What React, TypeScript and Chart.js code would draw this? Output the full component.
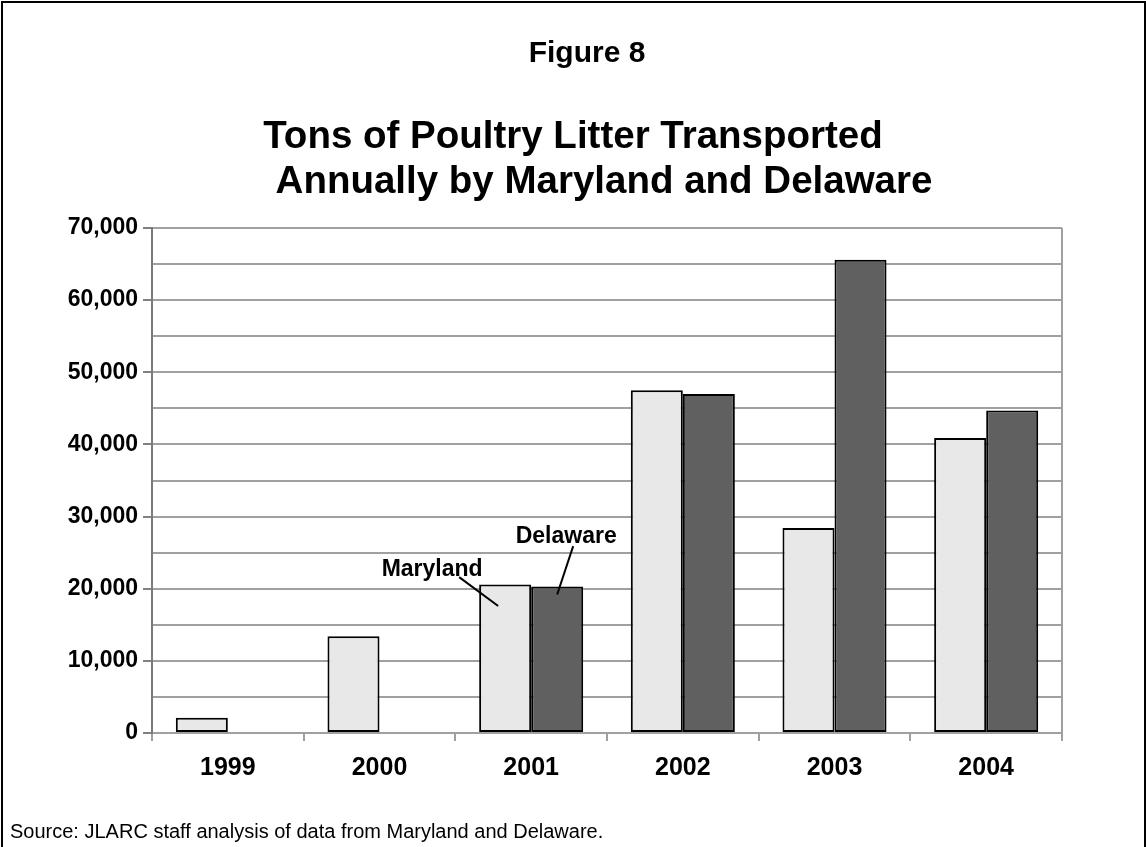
import React, { useEffect, useRef } from "react";
import { Chart, registerables } from "chart.js";

Chart.register(...registerables);

// ---- data ----
const categories = ["1999", "2000", "2001", "2002", "2003", "2004"];
const seriesNames = ["Maryland", "Delaware"];
const marylandTons = [2100, 13400, 20600, 47500, 28400, 40900];
const delawareTons: (number | null)[] = [null, null, 20300, 47000, 65600, 44700];
const yMin = 0;
const yMax = 70000;
const yStep = 5000;
const yLabelEvery = 10000;

const FONT = '"Liberation Sans", Arial, Helvetica, sans-serif';

// callout labels (text positioned relative to the 2001 bars)
const callouts = [
  { series: 0, category: 2, text: "Maryland", textDx: -73, textValue: 21700, fromDx: -46, fromValue: 21600, toDx: -7, toValue: 17600 },
  { series: 1, category: 2, text: "Delaware", textDx: 9, textValue: 26300, fromDx: 16, fromValue: 25900, toDx: 0, toValue: 19200 },
];

const calloutPlugin = {
  id: "callouts",
  afterDatasetsDraw(chart: any) {
    const ctx = chart.ctx;
    const y = chart.scales.y;
    ctx.save();
    callouts.forEach((c) => {
      const bar = chart.getDatasetMeta(c.series).data[c.category];
      if (!bar) return;
      const bx = bar.x;
      ctx.strokeStyle = "#000";
      ctx.lineWidth = 2;
      ctx.beginPath();
      ctx.moveTo(bx + c.fromDx, y.getPixelForValue(c.fromValue));
      ctx.lineTo(bx + c.toDx, y.getPixelForValue(c.toValue));
      ctx.stroke();
      ctx.fillStyle = "#000";
      ctx.font = `bold 23px ${FONT}`;
      ctx.textAlign = "center";
      ctx.textBaseline = "alphabetic";
      ctx.fillText(c.text, bx + c.textDx, y.getPixelForValue(c.textValue));
    });
    ctx.restore();
  },
};

function BarChart() {
  const ref = useRef<HTMLCanvasElement | null>(null);
  useEffect(() => {
    if (!ref.current) return;
    const chart = new Chart(ref.current, {
      type: "bar",
      data: {
        labels: categories,
        datasets: [
          {
            label: seriesNames[0],
            data: marylandTons,
            backgroundColor: "#e8e8e8",
            borderColor: "#000",
            borderWidth: 2,
            borderSkipped: false,
            categoryPercentage: 0.686,
            barPercentage: 1,
          },
          {
            label: seriesNames[1],
            data: delawareTons,
            backgroundColor: "#606060",
            borderColor: "#000",
            borderWidth: 2,
            borderSkipped: false,
            categoryPercentage: 0.686,
            barPercentage: 1,
          },
        ],
      },
      options: {
        animation: false,
        responsive: false,
        devicePixelRatio: 1,
        layout: { padding: { left: 0, right: 84, top: 228, bottom: 0 } },
        plugins: {
          legend: { display: false },
          tooltip: { enabled: false },
          title: { display: false },
        },
        scales: {
          x: {
            offset: true,
            grid: {
              offset: true,
              display: true,
              drawOnChartArea: true,
              color: (c: any) => (c.type === "scale" ? "#a0a0a0" : "rgba(0,0,0,0)"),
              lineWidth: 2,
              tickColor: "#a0a0a0",
              tickWidth: 2,
              tickLength: 8,
            },
            border: { display: true, color: "#a0a0a0", width: 2 },
            ticks: {
              color: "#000",
              font: { family: FONT, size: 25, weight: "bold" },
              padding: 12,
              maxRotation: 0,
            },
            afterFit: (s: any) => {
              s.height = 114;
            },
          },
          y: {
            min: yMin,
            max: yMax,
            ticks: {
              stepSize: yStep,
              color: "#000",
              font: { family: FONT, size: 23, weight: "bold" },
              padding: 5,
              callback: (v: any) => (Number(v) % yLabelEvery === 0 ? Number(v).toLocaleString("en-US") : ""),
            },
            grid: {
              color: "#a0a0a0",
              lineWidth: 2,
              tickLength: 9,
              tickWidth: 2,
              tickColor: (c: any) =>
                c.tick && c.tick.value % yLabelEvery === 0 ? "#808080" : "rgba(0,0,0,0)",
            },
            border: { display: true, color: "#7a7a7a", width: 2 },
            afterFit: (s: any) => {
              s.width = 152;
            },
          },
        },
      },
      plugins: [calloutPlugin],
    } as any);
    return () => chart.destroy();
  }, []);
  return <canvas ref={ref} width={1146} height={847} style={{ display: "block", position: "absolute", left: 0, top: 0 }} />;
}

export default function App() {
  const text = (extra: React.CSSProperties): React.CSSProperties => ({
    position: "absolute",
    fontFamily: FONT,
    lineHeight: 1,
    whiteSpace: "nowrap",
    color: "#000",
    ...extra,
  });
  return (
    <div
      style={{
        position: "fixed",
        left: 0,
        top: 0,
        width: 1146,
        height: 847,
        overflow: "hidden",
        background: "#fff",
      }}
    >
      <BarChart />
      <div
        style={{
          position: "absolute",
          left: 1,
          top: 1,
          width: 1141,
          height: 900,
          border: "2px solid #000",
          pointerEvents: "none",
        }}
      />
      <div style={text({ left: 287, width: 600, top: 37, textAlign: "center", fontSize: 30, fontWeight: "bold" })}>
        Figure 8
      </div>
      <div style={text({ left: 73, width: 1000, top: 116, textAlign: "center", fontSize: 38.5, fontWeight: "bold" })}>
        Tons of Poultry Litter Transported
      </div>
      <div style={text({ left: 104, width: 1000, top: 161, textAlign: "center", fontSize: 38.5, fontWeight: "bold" })}>
        Annually by Maryland and Delaware
      </div>
      <div style={text({ left: 10, top: 821, fontSize: 20 })}>
        Source: JLARC staff analysis of data from Maryland and Delaware.
      </div>
    </div>
  );
}
